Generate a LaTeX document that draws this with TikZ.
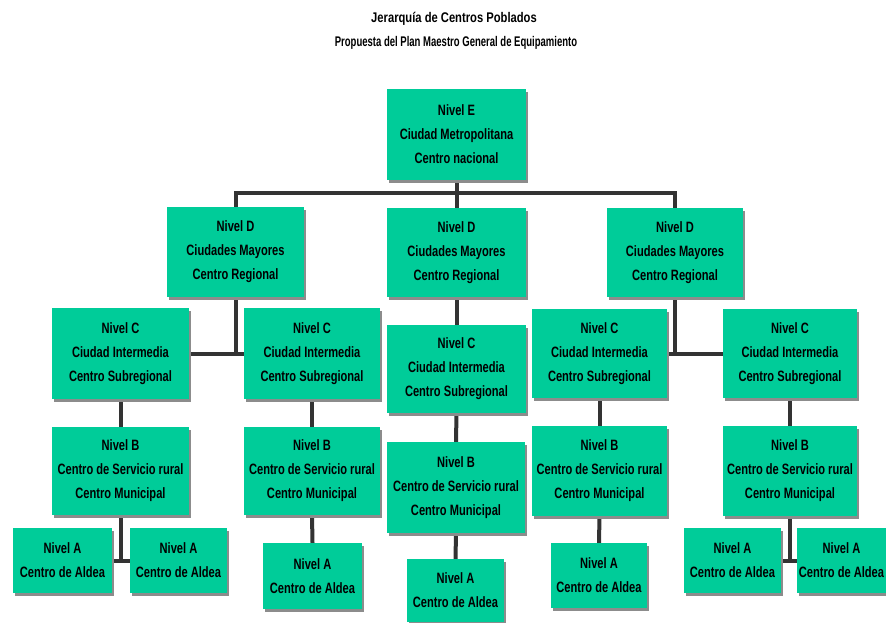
\documentclass[tikz,border=0pt]{standalone}
\usepackage{fontspec}
\usetikzlibrary{backgrounds}
\newfontfamily\boxfont{Liberation Sans}[FakeStretch=0.74]
\newfontfamily\titlefont{Liberation Sans}[FakeStretch=0.8]
\newfontfamily\titlefontb{Liberation Sans}[FakeStretch=0.68]
\definecolor{boxgreen}{HTML}{00CC99}
\definecolor{shadowgray}{HTML}{8C8C8C}
\definecolor{linegray}{HTML}{333333}
\tikzset{
  lvlbox/.style={fill=boxgreen, inner sep=0pt, align=center,
    font=\boxfont\bfseries\fontsize{15}{24}\selectfont,
    preaction={fill=shadowgray, transform canvas={xshift=2pt,yshift=-3pt}}},
  conn/.style={draw=linegray, line width=4pt},
  ttl/.style={font=\titlefont\bfseries\fontsize{14}{24}\selectfont, inner sep=0pt},
  ttlb/.style={font=\titlefontb\bfseries\fontsize{14}{24}\selectfont, inner sep=0pt}
}
\newcommand{\lbox}[6]{%
  \node[lvlbox, minimum width={(#4-#2)*1pt}, minimum height={(#5-#3)*1pt}]
    (#1) at ({(#2+#4)/2},{(#3+#5)/2}) {#6};}
\begin{document}
\begin{tikzpicture}[x=1pt,y=-1pt]
\useasboundingbox (0,0) rectangle (886,623);
\clip (0,0) rectangle (886,623);
\node[ttl] (t1) at (454,19) {Jerarquía de Centros Poblados};
\node[ttlb] (t2) at (456,43) {Propuesta del Plan Maestro General de Equipamiento};
% level E
\lbox{E}{387}{89}{526}{180}{Nivel E\\Ciudad Metropolitana\\Centro nacional}
% level D
\lbox{D1}{167}{207}{304}{297}{Nivel D\\Ciudades Mayores\\Centro Regional}
\lbox{D2}{387}{208}{526}{297}{Nivel D\\Ciudades Mayores\\Centro Regional}
\lbox{D3}{607}{208}{743}{297}{Nivel D\\Ciudades Mayores\\Centro Regional}
% level C
\lbox{C1}{52}{308}{189}{399}{Nivel C\\Ciudad Intermedia\\Centro Subregional}
\lbox{C2}{244}{308}{380}{399}{Nivel C\\Ciudad Intermedia\\Centro Subregional}
\lbox{C3}{387}{325}{526}{413}{Nivel C\\Ciudad Intermedia\\Centro Subregional}
\lbox{C4}{532}{309}{667}{398}{Nivel C\\Ciudad Intermedia\\Centro Subregional}
\lbox{C5}{723}{309}{857}{398}{Nivel C\\Ciudad Intermedia\\Centro Subregional}
% level B
\lbox{B1}{52}{427}{189}{515}{Nivel B\\Centro de Servicio rural\\Centro Municipal}
\lbox{B2}{244}{427}{380}{515}{Nivel B\\Centro de Servicio rural\\Centro Municipal}
\lbox{B3}{387}{442}{525}{533}{Nivel B\\Centro de Servicio rural\\Centro Municipal}
\lbox{B4}{532}{426}{667}{516}{Nivel B\\Centro de Servicio rural\\Centro Municipal}
\lbox{B5}{723}{426}{857}{516}{Nivel B\\Centro de Servicio rural\\Centro Municipal}
% level A
\lbox{A1a}{13}{528}{112}{593}{Nivel A\\Centro de Aldea}
\lbox{A1b}{130}{528}{227}{593}{Nivel A\\Centro de Aldea}
\lbox{A2}{263}{543}{362}{609}{Nivel A\\Centro de Aldea}
\lbox{A3}{407}{559}{504}{622}{Nivel A\\Centro de Aldea}
\lbox{A4}{551}{543}{647}{608}{Nivel A\\Centro de Aldea}
\lbox{A5a}{684}{528}{781}{593}{Nivel A\\Centro de Aldea}
\lbox{A5b}{797}{528}{886}{593}{Nivel A\\Centro de Aldea}
\coordinate (j0) at (456.5,193);
\begin{scope}[on background layer]
\draw[conn] (E.south) -- (D2.north);
\draw[conn] (D1.north) |- (j0) -| (D3.north);
\draw[conn] (D1.south) |- (C1.east);
\draw[conn] (D1.south) |- (C2.west);
\draw[conn] (D2.south) -- (C3.north);
\draw[conn] (D3.south) |- (C4.east);
\draw[conn] (D3.south) |- (C5.west);
\draw[conn] (C1.south) -- (B1.north);
\draw[conn] (C2.south) -- (B2.north);
\draw[conn] (C3.south) -- (B3.north);
\draw[conn] (C4.south) -- (B4.north);
\draw[conn] (C5.south) -- (B5.north);
\draw[conn] (B1.south) |- (A1a.east);
\draw[conn] (B1.south) |- (A1b.west);
\draw[conn] (B2.south) -- (A2.north);
\draw[conn] (B3.south) -- (A3.north);
\draw[conn] (B4.south) -- (A4.north);
\draw[conn] (B5.south) |- (A5a.east);
\draw[conn] (B5.south) |- (A5b.west);
\end{scope}
\end{tikzpicture}
\end{document}
